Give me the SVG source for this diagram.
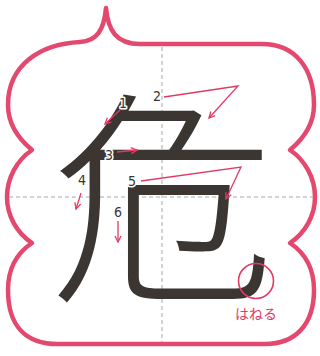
<svg xmlns="http://www.w3.org/2000/svg" width="320" height="356" viewBox="0 0 320 356">
<style>
.frame{fill:#fff;stroke:#e4486f;stroke-width:4.5;stroke-linejoin:round}
.guide{stroke:#a8a8a8;stroke-width:1;stroke-dasharray:4 3;fill:none}
.arrow{stroke:#e23a65;stroke-width:1.3;fill:none;marker-end:url(#ah)}
.num{font-family:"DejaVu Sans Condensed","Liberation Sans",sans-serif;font-size:14px;fill:#3a3532;text-anchor:middle;stroke:#fff;stroke-width:3;paint-order:stroke;stroke-linejoin:round}
.kanji{font-family:"Noto Sans CJK JP","Noto Sans CJK SC",sans-serif;font-size:226px;fill:#3b3631;text-anchor:middle;font-weight:300}
.note{font-family:"Noto Sans CJK JP",sans-serif;font-size:14px;fill:#e23a65;text-anchor:middle}
</style>
<defs>
<marker id="ah" viewBox="0 0 8 8" refX="7" refY="4" markerWidth="8" markerHeight="8" markerUnits="userSpaceOnUse" orient="auto">
<path d="M1,1 L7,4 L1,7" fill="none" stroke="#e23a65" stroke-width="1.3"/>
</marker>
</defs>
<g id="frame">
<path class="frame" d="M106,8 C108,30 116,44 140,44 L262,44 C295,44 314,68 314,105 C314,125 302,140 290,150 C305,160 315,178 315,197 C315,216 305,233 290,243 C305,253 314,268 314,290 C314,325 295,344 265,344 L58,344 C25,344 8,325 8,290 C8,268 17,253 32,243 C17,233 7,216 7,197 C7,178 17,160 32,150 C20,140 8,125 8,105 C8,65 40,44 80,42 C97,41 104,30 106,8 Z"/>
</g>
<g id="guides">
<line class="guide" x1="162" y1="47" x2="162" y2="342"/>
<line class="guide" x1="9" y1="197" x2="313" y2="197"/>
</g>
<g id="character">
<text class="kanji" x="163" y="284">危</text>
</g>
<g id="connectors">
<path class="arrow" d="M120,110 L105,124"/>
<path class="arrow" d="M164,97 L238,86 L209,118"/>
<path class="arrow" d="M117,152 L137,150"/>
<path class="arrow" d="M81,193 L76,209"/>
<path class="arrow" d="M141,181 L241,167 L226,199"/>
<path class="arrow" d="M118,221 L118,242"/>
</g>
<g id="labels">
<text class="num" x="123" y="108">1</text>
<text class="num" x="157" y="101">2</text>
<text class="num" x="109" y="160">3</text>
<text class="num" x="82" y="185">4</text>
<text class="num" x="132" y="186">5</text>
<text class="num" x="118" y="217">6</text>
</g>
<g id="hane">
<circle cx="256" cy="281" r="17.5" fill="none" stroke="#e23a65" stroke-width="1.6"/>
<text class="note" x="256" y="319">はねる</text>
</g>
</svg>
